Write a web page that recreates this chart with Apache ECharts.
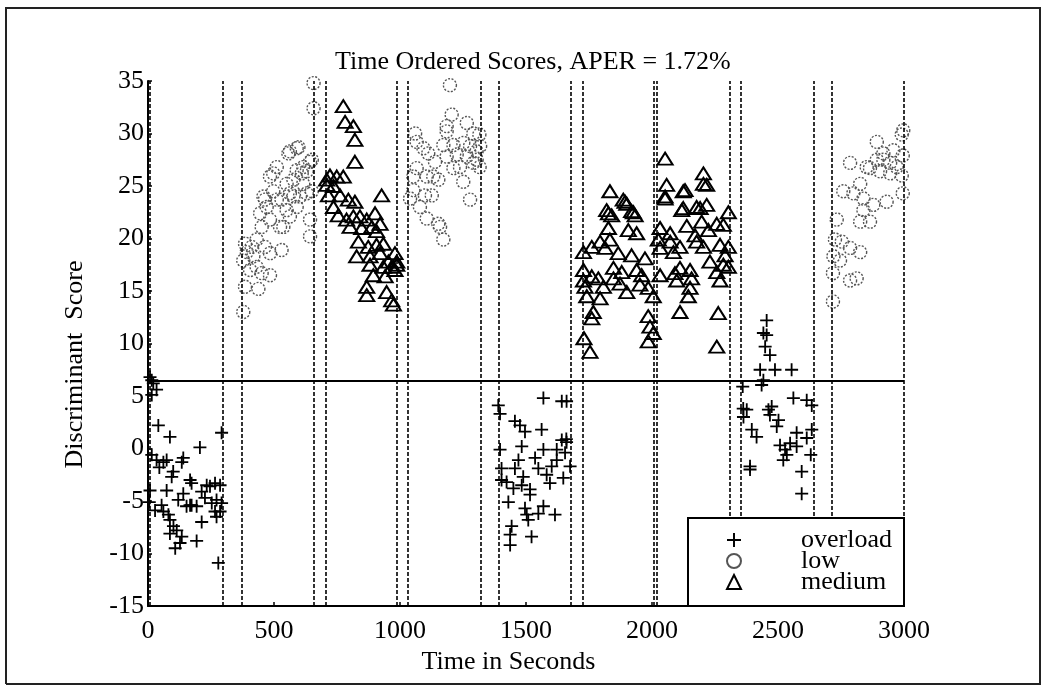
<!DOCTYPE html>
<html>
<head>
<meta charset="utf-8">
<script src="https://cdn.jsdelivr.net/npm/echarts@6/dist/echarts.min.js"></script>
<style>
html,body{margin:0;padding:0;background:#fff;}
#chart{width:1045px;height:689px;}
</style>
</head>
<body>
<div id="chart"></div>
<script>
// ---- data ----
var titleText = 'Time Ordered Scores, APER = 1.72%';
var xTicks = [0, 500, 1000, 1500, 2000, 2500, 3000];
var yTicks = [-15, -10, -5, 0, 5, 10, 15, 20, 25, 30, 35];
var threshold = 6.5;
var boundaries = [8, 296, 374, 657, 705, 988, 1031, 1321, 1390, 1677, 1725, 2005, 2020, 2310, 2354, 2640, 2715, 3000];

var overloadPoints = [
  [15,6.5],[21,6.2],[34,5.6],[15,5.1],[8,6.8],[41,2.2],[87,1.1],[206,0.1],[15,-0.6],[34,-1.1],
  [61,-1.3],[74,-1.1],[140,-0.9],[134,-1.3],[94,-2.7],[8,-4.0],[74,-4.0],[28,-5.9],[61,-6.0],[120,-4.9],
  [167,-3.0],[173,-3.3],[153,-5.5],[167,-5.4],[193,-5.5],[213,-7.0],[213,-4.1],[233,-3.5],[246,-3.6],[266,-3.3],
  [286,-3.5],[253,-5.2],[272,-4.9],[286,-6.0],[292,-5.2],[266,-6.0],[272,-6.5],[87,-6.8],[101,-7.4],[114,-7.8],
  [87,-8.1],[134,-8.4],[108,-9.5],[127,-9.0],[193,-8.8],[279,-10.9],[292,1.5],[54,-5.4],[81,-6.3],[226,-4.7],
  [140,-4.3],[173,-5.4],[5,-5.1],[45,-1.8],[100,-2.2],
  [1569,4.8],[1642,4.5],[1661,4.5],[1390,4.1],[1397,3.3],[1456,2.6],[1476,2.2],[1496,1.6],[1562,1.8],[1642,0.8],
  [1661,0.6],[1483,0.2],[1397,-0.1],[1569,-0.1],[1622,-0.1],[1536,-0.9],[1470,-1.1],[1622,-1.1],[1403,-1.9],[1456,-1.9],
  [1549,-1.9],[1602,-1.7],[1675,-1.7],[1403,-3.0],[1423,-3.2],[1489,-2.7],[1582,-2.5],[1648,-2.8],[1450,-3.8],[1483,-3.5],
  [1516,-3.9],[1595,-3.3],[1516,-4.4],[1430,-5.1],[1496,-5.7],[1569,-5.5],[1503,-6.3],[1549,-6.2],[1615,-6.3],[1509,-6.8],
  [1443,-7.4],[1437,-8.2],[1522,-8.4],[1437,-9.2],[1660,0.9],[1655,-0.4],
  [2455,12.2],[2442,11.0],[2455,10.8],[2449,9.7],[2468,8.9],[2429,7.5],[2488,7.5],[2554,7.5],[2442,6.5],[2435,6.05],
  [2360,5.9],[2362,3.8],[2376,3.7],[2363,3.0],[2475,4.0],[2462,3.7],[2561,4.8],[2614,4.6],[2634,4.1],[2502,2.7],
  [2495,2.1],[2396,1.8],[2415,1.1],[2634,1.8],[2574,1.5],[2614,1.0],[2508,0.3],[2528,-0.1],[2535,-0.6],[2521,-1.1],
  [2574,0.2],[2630,-0.6],[2389,-1.7],[2594,-2.2],[2594,-4.3],[2389,-2.0],[2548,0.5],[2468,3.2]
];

var lowPoints = [
  [657,34.8],[657,32.4],[378,13.0],[385,15.4],[438,15.2],[378,17.9],[385,19.5],[431,19.9],[464,19.2],[418,18.3],
  [405,17.0],[451,16.7],[484,16.5],[530,18.9],[537,21.1],[458,24.0],[497,26.2],[484,25.9],[557,28.1],[590,28.6],
  [597,28.7],[563,28.3],[511,26.8],[550,25.2],[616,26.8],[643,27.3],[610,26.2],[630,26.4],[577,25.6],[563,24.3],
  [511,23.7],[471,23.0],[445,22.4],[484,21.8],[524,21.1],[550,22.7],[590,23.0],[603,24.0],[630,24.3],[650,24.5],
  [643,21.8],[643,20.2],[392,18.7],[411,19.2],[451,21.1],[464,23.7],[530,23.7],[577,24.0],[497,24.5],[590,26.5],
  [431,17.3],[484,18.6],[563,22.1],[616,25.2],[650,27.5],
  [1198,34.6],[1205,31.8],[1185,30.7],[1185,30.2],[1060,30.0],[1066,29.2],[1265,31.0],[1291,30.0],[1315,29.9],[1318,28.8],
  [1093,28.6],[1112,28.1],[1139,27.3],[1172,28.9],[1212,28.9],[1251,29.1],[1278,28.8],[1304,28.3],[1225,28.0],[1265,27.8],
  [1304,27.5],[1316,26.8],[1212,26.7],[1251,25.4],[1278,23.7],[1066,26.7],[1053,25.9],[1106,25.9],[1132,25.9],[1152,25.6],
  [1053,24.6],[1040,23.8],[1099,24.1],[1126,24.1],[1079,23.0],[1106,21.9],[1152,21.4],[1159,21.1],[1172,19.9],[1238,26.8],
  [1291,27.2],[1185,27.8],
  [2997,30.3],[2991,29.9],[2995,27.9],[2892,29.2],[2786,27.2],[2892,27.5],[2918,27.5],[2945,27.2],[2971,26.8],[2865,26.7],
  [2905,26.4],[2945,26.2],[2991,26.0],[2826,25.2],[2759,24.5],[2799,24.3],[2839,23.8],[2931,23.5],[2995,24.3],[2878,23.2],
  [2839,22.7],[2826,21.6],[2865,21.6],[2733,21.8],[2726,19.9],[2753,19.7],[2786,19.1],[2826,18.7],[2720,18.3],[2746,17.9],
  [2718,16.7],[2786,16.0],[2812,16.2],[2718,14.0],[2852,26.8],[2918,28.1],[2958,28.4]
];

var mediumPoints = [
  [775,32.6],[782,31.1],[815,30.7],[821,29.4],[821,27.3],[927,24.1],[722,26.0],[709,25.6],[749,25.9],[775,25.9],
  [710,25.1],[736,25.0],[716,24.1],[762,24.1],[736,23.0],[795,23.7],[821,23.5],[755,22.2],[788,21.8],[815,22.1],
  [841,22.1],[868,21.8],[901,22.4],[921,21.4],[802,21.1],[848,21.0],[888,21.1],[907,20.7],[835,19.7],[874,19.2],
  [907,19.4],[934,19.5],[828,18.3],[881,18.3],[921,18.6],[980,18.6],[954,17.8],[987,17.8],[881,17.5],[934,17.3],
  [967,17.3],[980,17.0],[894,16.5],[941,16.4],[868,15.4],[868,14.6],[947,14.9],[967,14.1],[974,13.7],[987,17.5],
  [2052,27.6],[2204,26.2],[2204,25.2],[2058,25.1],[2052,24.0],[2124,24.5],[1833,24.5],[1886,23.7],[1900,23.3],[1820,22.7],
  [1827,22.4],[1926,22.5],[2124,22.9],[2177,23.0],[2217,23.2],[2303,22.5],[2131,24.6],[2217,25.1],[2052,23.8],[1893,23.5],
  [1919,22.6],[1933,22.2],[1840,22.2],[2118,22.7],[2191,22.9],[1827,21.0],[1906,20.8],[1939,20.5],[2032,21.0],[2072,20.5],
  [2138,21.2],[2197,21.6],[2257,21.4],[2283,21.3],[2171,20.3],[2224,20.8],[1794,19.7],[1833,19.9],[1761,19.2],[1728,18.7],
  [1814,19.1],[1866,18.6],[1919,18.4],[1972,18.1],[2025,19.9],[2072,19.7],[2111,19.2],[2177,19.7],[2204,19.2],[2270,19.4],
  [2303,19.2],[2032,19.1],[2085,18.7],[2290,18.4],[2230,17.8],[2283,17.5],[2303,17.3],[1728,17.0],[1761,16.4],[1787,16.2],
  [1847,17.2],[1880,16.8],[1939,17.0],[1959,16.5],[1847,16.2],[1873,15.7],[1952,15.6],[1985,15.3],[2032,16.5],[2091,16.7],
  [2111,17.2],[2151,17.0],[2157,16.2],[2098,16.0],[2257,16.8],[2270,16.0],[1728,16.0],[1734,15.4],[1807,15.4],[1900,14.9],
  [1741,14.5],[1794,14.3],[2005,14.5],[2151,15.3],[2144,14.5],[1767,13.0],[1761,12.4],[1985,12.6],[2111,13.0],[2263,12.9],
  [1992,11.6],[2005,11.0],[1985,10.2],[1730,10.5],[1754,9.2],[2257,9.7]
];

// ---- chart ----
var serif = 'Liberation Serif, Times New Roman, serif';
var plusPath = 'path://M0,4.3H10V5.7H0Z M4.3,0H5.7V10H4.3Z';

var chart = echarts.init(document.getElementById('chart'), null, {renderer: 'canvas'});

var option = {
  backgroundColor: '#fff',
  animation: false,
  title: {
    text: titleText,
    left: 335, top: 49,
    padding: 0,
    textStyle: {fontFamily: serif, fontSize: 26, fontWeight: 'normal', color: '#000'}
  },
  grid: {left: 148, right: 141, top: 81, bottom: 83, containLabel: false},
  xAxis: {
    type: 'value', min: xTicks[0], max: xTicks[xTicks.length - 1], interval: 500,
    name: 'Time in Seconds', nameLocation: 'middle', nameGap: 42,
    nameTextStyle: {fontFamily: serif, fontSize: 26, color: '#000', padding: [0, 35, 0, 0]},
    axisLine: {onZero: false, lineStyle: {color: '#000', width: 2}},
    axisTick: {inside: true, length: 4, lineStyle: {color: '#000', width: 1.5}},
    axisLabel: {fontFamily: serif, fontSize: 26, color: '#000', margin: 12,
      formatter: function (v) { return String(v); }},
    splitLine: {show: false}
  },
  yAxis: {
    type: 'value', min: yTicks[0], max: yTicks[yTicks.length - 1], interval: 5,
    name: 'Discriminant  Score', nameLocation: 'middle', nameGap: 60, nameRotate: 90,
    nameTextStyle: {fontFamily: serif, fontSize: 26, color: '#000', padding: [0, 42, 0, 0]},
    axisLine: {onZero: false, lineStyle: {color: '#000', width: 2}},
    axisTick: {inside: true, length: 4, lineStyle: {color: '#000', width: 1.5}},
    axisLabel: {fontFamily: serif, fontSize: 26, color: '#000', margin: 4, padding: [6, 0, 0, 0],
      formatter: function (v) { return String(v); }},
    splitLine: {show: false}
  },
  legend: {
    data: ['overload', 'low', 'medium'],
    orient: 'vertical',
    left: 726, top: 527,
    padding: 0,
    itemGap: -5,
    itemWidth: 14, itemHeight: 14,
    z: 20,
    textStyle: {fontFamily: serif, fontSize: 26, color: '#000', padding: [0, 0, 0, 55]}
  },
  graphic: [
    {type: 'rect', z: 10, shape: {x: 688, y: 518, width: 216, height: 88},
     style: {fill: '#fff', stroke: '#000', lineWidth: 2}},
    {type: 'polyline', z: 10, shape: {points: [[6, 684], [6, 8], [1040, 8], [1040, 684], [6, 684]]},
     style: {fill: null, stroke: '#222', lineWidth: 2}}
  ],
  series: [
    {
      name: 'overload', type: 'scatter', data: overloadPoints,
      symbol: plusPath, symbolSize: 13, symbolKeepAspect: true,
      itemStyle: {color: '#000', opacity: 1},
      z: 3
    },
    {
      name: 'low', type: 'scatter', data: lowPoints,
      symbol: 'circle', symbolSize: 13,
      itemStyle: {color: 'rgba(0,0,0,0)', borderColor: '#555', borderWidth: 1.4, borderType: [2, 1.5], opacity: 1},
      z: 3
    },
    {
      name: 'medium', type: 'scatter', data: mediumPoints,
      symbol: 'triangle', symbolSize: [15, 12],
      itemStyle: {color: 'rgba(0,0,0,0)', borderColor: '#000', borderWidth: 2, opacity: 1},
      z: 3
    },
    {
      name: 'boundaries', type: 'line', data: [],
      markLine: {
        silent: true, symbol: ['none', 'none'], animation: false,
        label: {show: false},
        lineStyle: {color: '#000', width: 1.6, type: [4, 2]},
        data: boundaries.map(function (b) { return {xAxis: b}; })
          .concat([{yAxis: threshold, lineStyle: {type: 'solid', width: 1.8}}])
      },
      z: 2
    }
  ]
};
chart.setOption(option);
</script>
</body>
</html>
